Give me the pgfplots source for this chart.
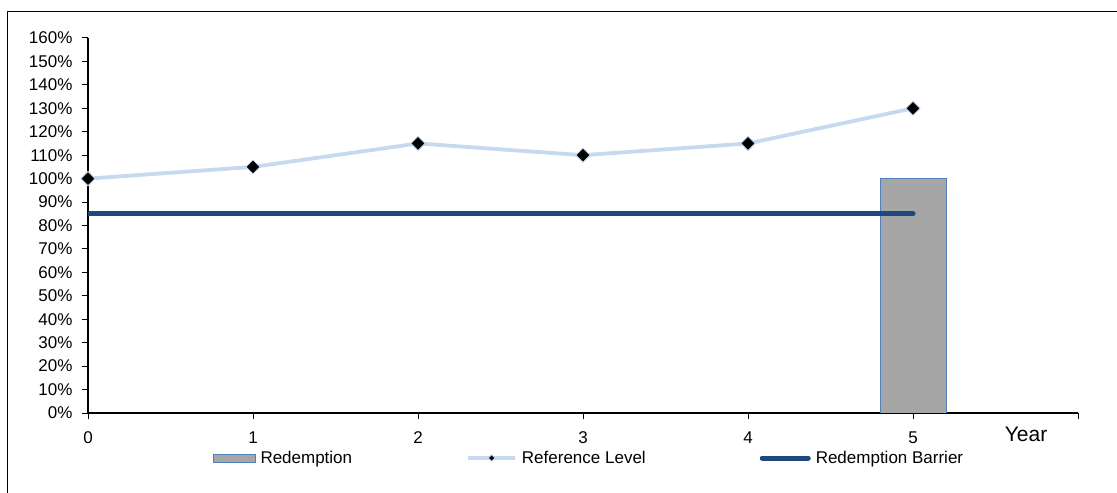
\documentclass[border=0pt]{standalone}
\usepackage{pgfplots}
\pgfplotsset{compat=1.18}
\usepackage{fontspec}
\setmainfont{Liberation Sans}
\definecolor{barfill}{HTML}{A6A6A6}
\definecolor{baredge}{HTML}{4F81BD}
\definecolor{barrier}{HTML}{1F497D}
\definecolor{refline}{HTML}{C6D9F1}
\pgfplotsset{
  barleg/.style={legend image code/.code={\draw[##1] (0bp,-4bp) rectangle (42bp,4bp);}},
  refleg/.style={legend image code/.code={\draw[##1, mark size=2.3bp, mark repeat=2, mark phase=2] plot coordinates {(0bp,0bp)(23.5bp,0bp)(47bp,0bp)};}},
  barrleg/.style={legend image code/.code={\draw[##1] (0bp,0bp) -- (46bp,0bp);}},
}
\begin{document}
\begin{tikzpicture}
\begin{axis}[
  at={(88bp,80bp)}, anchor=south west,
  scale only axis,
  width=990bp, height=375bp,
  xmin=0, xmax=6, ymin=0, ymax=160,
  axis x line=bottom, axis y line=left,
  axis line style={-, line width=1.5bp, black},
  xtick={0,1,2,3,4,5,6},
  xticklabels={0,1,2,3,4,5,{}},
  ytick={0,10,...,160},
  yticklabel={\pgfmathprintnumber{\tick}\%},
  tick align=outside,
  major tick length=6bp,
  tick style={black, line width=1bp},
  /pgf/number format/assume math mode=true,
  ticklabel style={font=\fontsize{17bp}{20bp}\selectfont},
  yticklabel style={xshift=-6bp},
  xticklabel style={yshift=-9bp},
  xlabel={Year},
  xlabel style={at={(rel axis cs:0.9475,0)}, anchor=base, yshift=-28bp, font=\fontsize{21bp}{24bp}\selectfont},
  legend columns=3,
  legend cell align=left,
  legend style={at={(rel axis cs:0.506,0)}, anchor=center, yshift=-45bp, draw=none, fill=none,
    font=\fontsize{17bp}{20bp}\selectfont,
    nodes={inner sep=2bp},
    /tikz/every odd column/.append style={column sep=3bp},
    /tikz/every even column/.append style={column sep=112bp}},
]
\addplot[ybar, bar width=66bp, fill=barfill, draw=baredge, line width=0.8bp, barleg]
  coordinates {(5,100)};
\addlegendentry{Redemption}
\addplot[color=refline, line width=3.8bp, mark=square*, mark size=5bp,
  mark options={fill=black, draw=refline, line width=0.8bp, rotate=45}, refleg]
  coordinates {(0,100) (1,105) (2,115) (3,110) (4,115) (5,130)};
\addlegendentry{Reference Level}
\addplot[color=barrier, line width=5bp, line cap=round, barrleg]
  coordinates {(0,85) (5,85)};
\addlegendentry{Redemption Barrier}
\end{axis}
\draw[line width=1.3bp, black] (7.5bp,-20bp) rectangle (1130bp,481.5bp);
\pgfresetboundingbox
\useasboundingbox (0bp,0bp) rectangle (1117bp,493bp);
\end{tikzpicture}
\end{document}
